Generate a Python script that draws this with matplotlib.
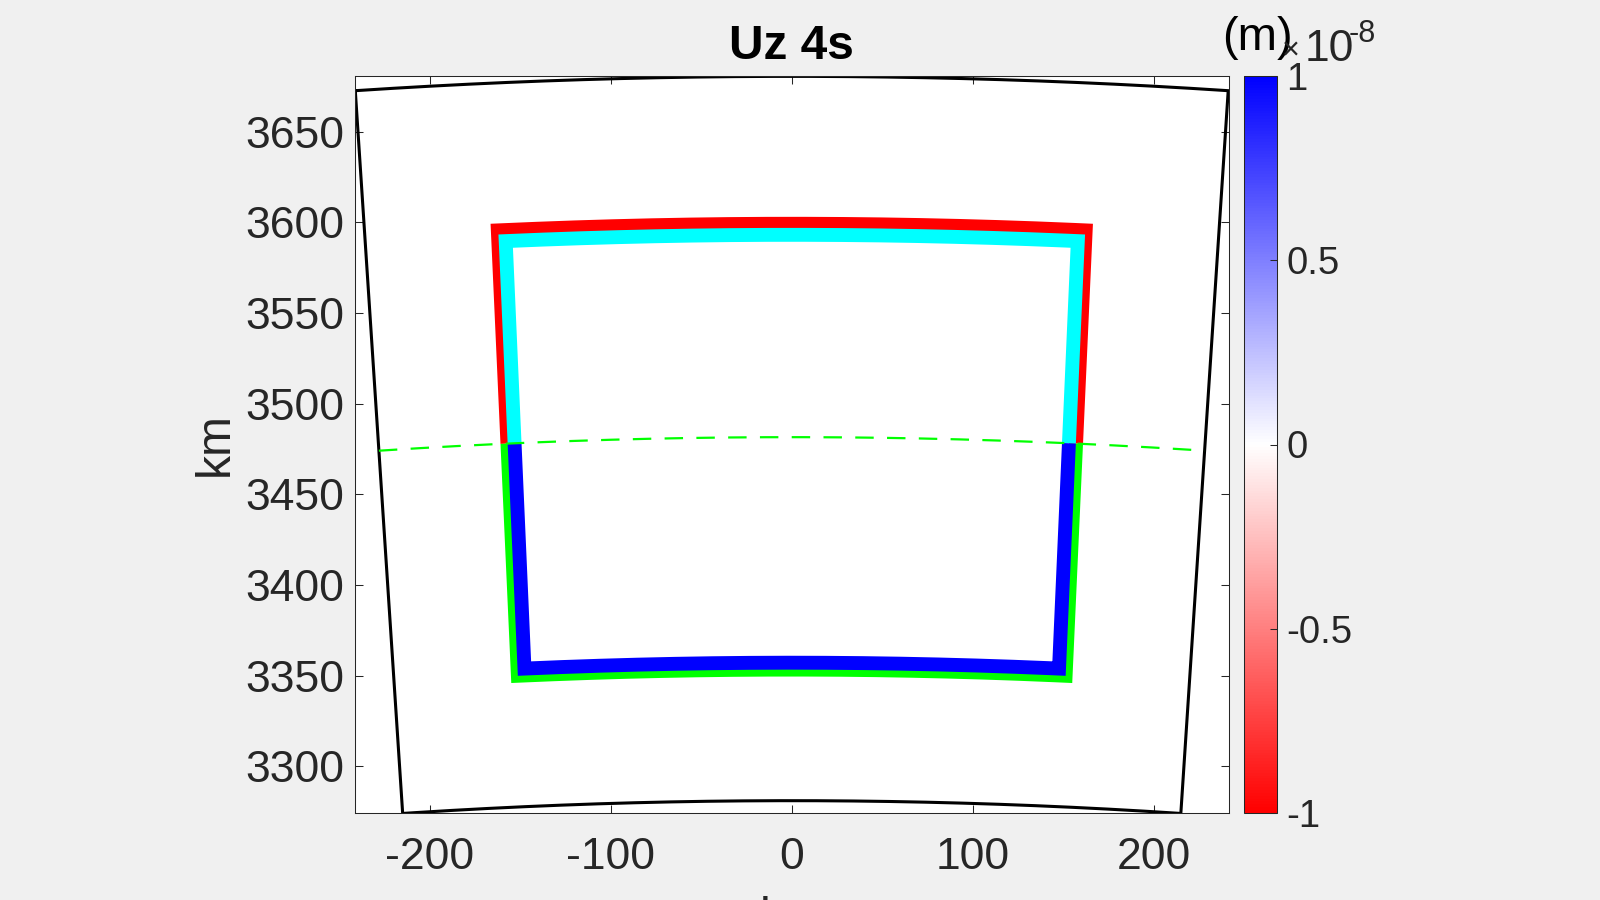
import numpy as np
import matplotlib
matplotlib.use("Agg")
import matplotlib.pyplot as plt
from matplotlib.colors import LinearSegmentedColormap, Normalize
from matplotlib.cm import ScalarMappable
from matplotlib.ticker import FuncFormatter

plt.rcParams['font.family'] = ['Liberation Sans', 'DejaVu Sans']
plt.rcParams['axes.unicode_minus'] = False

# Geometry in polar form: angle from the y axis (deg), distance from centre (km)
domain_theta = [-3.755, 3.755]
domain_r = [3281.0, 3680.5]
outer_theta = [-2.585, 2.585]     # red / green outline
outer_r = [3353.3, 3599.2]
inner_theta = [-2.52, 2.52]       # cyan / blue outline
inner_r = [3357.1, 3593.1]
split_r = 3481.5                  # colour change + dashed line

# Colour scale (m)
clim = [-1e-8, 1e-8]
cbar_ticks = [-1e-8, -0.5e-8, 0, 0.5e-8, 1e-8]

xticks = [-200, -100, 0, 100, 200]
yticks = [3300, 3350, 3400, 3450, 3500, 3550, 3600, 3650]
xlim = [-241.2, 241.2]
ylim = [3274.2, 3680.7]

TXT = '#262626'


def to_xy(theta, r):
    t = np.deg2rad(np.asarray(theta, dtype=float))
    r = np.asarray(r, dtype=float)
    return r * np.sin(t), r * np.cos(t)


def half_box(th, r_edge, r_split, n=200):
    # two radial sides from the split radius + arc along r_edge
    t = np.concatenate([[th[0]], np.linspace(th[0], th[1], n), [th[1]]])
    r = np.concatenate([[r_split], np.full(n, r_edge), [r_split]])
    return to_xy(t, r)


fig = plt.figure(figsize=(16, 9), dpi=100, facecolor='#f0f0f0')
ax = fig.add_axes([355 / 1600, 1 - 813 / 900, 873.5 / 1600, 737 / 900])
ax.set_facecolor('white')

# domain boundary
n = 300
t_dom = np.concatenate([np.linspace(domain_theta[0], domain_theta[1], n),
                        np.linspace(domain_theta[1], domain_theta[0], n)])
r_dom = np.concatenate([np.full(n, domain_r[1]), np.full(n, domain_r[0])])
xd, yd = to_xy(t_dom, r_dom)
ax.plot(np.append(xd, xd[0]), np.append(yd, yd[0]), color='black', lw=2.2,
        solid_joinstyle='miter')

# fault outlines
kw = dict(lw=10, solid_joinstyle='miter', solid_capstyle='butt')
x, y = half_box(outer_theta, outer_r[1], split_r)
ax.plot(x, y, color=(1, 0, 0), **kw)
x, y = half_box(outer_theta, outer_r[0], split_r)
ax.plot(x, y, color=(0, 1, 0), **kw)
x, y = half_box(inner_theta, inner_r[1], split_r)
ax.plot(x, y, color=(0, 1, 1), **kw)
x, y = half_box(inner_theta, inner_r[0], split_r)
ax.plot(x, y, color=(0, 0, 1), **kw)

# dashed line across the domain
t_line = np.linspace(domain_theta[0], domain_theta[1], n)
x, y = to_xy(t_line, np.full(n, split_r))
ax.plot(x, y, color=(0, 1, 0), lw=1.6, dashes=(8.3, 6.0))

ax.set_xlim(xlim)
ax.set_ylim(ylim)
ax.set_xticks(xticks)
ax.set_yticks(yticks)
ax.tick_params(direction='in', top=True, right=True, length=6, width=0.75,
               color=TXT, labelcolor=TXT, labelsize=32)
ax.tick_params(axis='x', pad=17)
ax.tick_params(axis='y', pad=8)
for s in ax.spines.values():
    s.set_color(TXT)
    s.set_linewidth(0.75)

ax.set_title('Uz 4s', fontsize=34.5, fontweight='bold', pad=12.2, color='black')
ax.set_ylabel('km', fontsize=34.5, color=TXT)
ax.yaxis.set_label_coords(-0.134, 0.5)
ax.set_xlabel('km', fontsize=34.5, color=TXT)
ax.xaxis.set_label_coords(0.5, -0.112)

# colorbar
cmap = LinearSegmentedColormap.from_list('rwb', [(1, 0, 0), (1, 1, 1), (0, 0, 1)])
sm = ScalarMappable(norm=Normalize(clim[0], clim[1]), cmap=cmap)
cax = fig.add_axes([1244 / 1600, 1 - 813 / 900, 32.7 / 1600, 737 / 900])
cb = fig.colorbar(sm, cax=cax)
cb.set_ticks(cbar_ticks)
cb.ax.yaxis.set_major_formatter(FuncFormatter(lambda v, p: f'{v / 1e-8:g}'))
cb.ax.tick_params(direction='in', length=5, width=0.75, color=TXT,
                  labelcolor=TXT, labelsize=27.5, pad=7)
cb.outline.set_edgecolor(TXT)
cb.outline.set_linewidth(0.75)

fig.text(1257 / 1600, 1 - 50 / 900, '(m)', fontsize=34, color='black',
         ha='center', va='baseline')
fig.text(1282 / 1600, 1 - 59 / 900, '×', fontsize=22, color=TXT,
         ha='left', va='baseline')
fig.text(1305 / 1600, 1 - 61 / 900, '10', fontsize=32, color=TXT,
         ha='left', va='baseline')
fig.text(1349 / 1600, 1 - 42 / 900, '-8', fontsize=22, color=TXT,
         ha='left', va='baseline')

fig.savefig('out.png', dpi=100, facecolor=fig.get_facecolor())
